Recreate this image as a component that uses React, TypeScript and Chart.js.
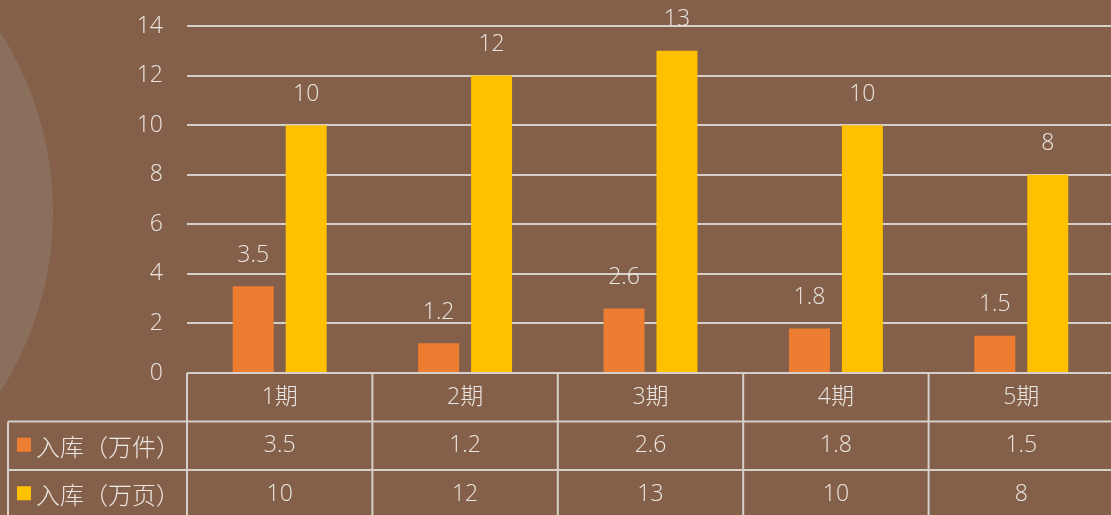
import React, { useEffect, useRef } from "react";
import { Chart, registerables } from "chart.js";

Chart.register(...registerables);

const categories = ["1期", "2期", "3期", "4期", "5期"];
const seriesNames = ["入库（万件）", "入库（万页）"];
const seriesA = [3.5, 1.2, 2.6, 1.8, 1.5];
const seriesB = [10, 12, 13, 10, 8];
const yTicks = { min: 0, max: 14, step: 2 };

const BG = "#84604a";
const CIRCLE = "#8b6f5d";
const ORANGE = "#ed7d31";
const YELLOW = "#ffc000";
const TEXT = "#ebe6e1";
const LINE = "#d4cfca";
const FONT = "'Open Sans', 'Noto Sans CJK SC', sans-serif";
const FS = 23;

const W = 1115;
const H = 515;

export default function App() {
  const ref = useRef<HTMLCanvasElement | null>(null);

  useEffect(() => {
    if (!ref.current) return;

    const bgPlugin = {
      id: "bgPlugin",
      beforeDraw(chart: any) {
        const ctx = chart.ctx;
        ctx.save();
        ctx.fillStyle = BG;
        ctx.fillRect(0, 0, chart.width, chart.height);
        ctx.fillStyle = CIRCLE;
        ctx.beginPath();
        ctx.arc(-279, 212, 332, 0, Math.PI * 2);
        ctx.fill();
        ctx.restore();
      },
    };

    const labelPlugin = {
      id: "labelPlugin",
      afterDatasetsDraw(chart: any) {
        const ctx = chart.ctx;
        ctx.save();
        ctx.fillStyle = TEXT;
        ctx.font = `300 ${FS}px ${FONT}`;
        ctx.textAlign = "center";
        ctx.textBaseline = "middle";
        chart.data.datasets.forEach((ds: any, di: number) => {
          const meta = chart.getDatasetMeta(di);
          meta.data.forEach((bar: any, i: number) => {
            ctx.fillText(String(ds.data[i]), bar.x, bar.y - 31);
          });
        });
        ctx.restore();
      },
    };

    const tablePlugin = {
      id: "tablePlugin",
      afterDraw(chart: any) {
        const ctx = chart.ctx;
        const xs = chart.scales.x;
        const area = chart.chartArea;
        const n = categories.length;
        const cw = area.width / n;
        const top = area.bottom;
        const rowH = 48.5;
        const r1 = top + rowH;
        const r2 = top + rowH * 2;
        const bottom = chart.height + 5;
        const leftX = 8;
        ctx.save();
        ctx.strokeStyle = LINE;
        ctx.lineWidth = 2;
        ctx.beginPath();
        ctx.moveTo(area.left, top);
        ctx.lineTo(area.right, top);
        ctx.moveTo(leftX, r1);
        ctx.lineTo(area.right, r1);
        ctx.moveTo(leftX, r2);
        ctx.lineTo(area.right, r2);
        for (let i = 0; i <= n; i++) {
          const x = area.left + cw * i;
          ctx.moveTo(x, top);
          ctx.lineTo(x, bottom);
        }
        ctx.moveTo(leftX, r1);
        ctx.lineTo(leftX, bottom);
        ctx.stroke();

        ctx.fillStyle = TEXT;
        ctx.font = `300 ${FS}px ${FONT}`;
        ctx.textAlign = "center";
        ctx.textBaseline = "middle";
        const rows = [seriesA, seriesB];
        categories.forEach((c, i) => {
          const x = xs.getPixelForValue(i);
          ctx.fillText(c, x, top + rowH / 2);
          rows.forEach((r, ri) => {
            ctx.fillText(String(r[i]), x, top + rowH * (ri + 1) + rowH / 2);
          });
        });
        const colors = [ORANGE, YELLOW];
        ctx.textAlign = "left";
        ctx.font = `300 24px 'Noto Sans CJK SC', sans-serif`;
        seriesNames.forEach((s, ri) => {
          const cy = top + rowH * (ri + 1) + rowH / 2;
          ctx.fillStyle = colors[ri];
          ctx.fillRect(17, cy - 8, 14, 14);
          ctx.fillStyle = TEXT;
          ctx.fillText(s, 36, cy + 1);
        });
        ctx.restore();
      },
    };

    const chart = new Chart(ref.current, {
      type: "bar",
      data: {
        labels: categories,
        datasets: [
          {
            label: seriesNames[0],
            data: seriesA,
            backgroundColor: ORANGE,
            categoryPercentage: 0.571,
            barPercentage: 0.774,
          },
          {
            label: seriesNames[1],
            data: seriesB,
            backgroundColor: YELLOW,
            categoryPercentage: 0.571,
            barPercentage: 0.774,
          },
        ],
      },
      options: {
        responsive: false,
        animation: false,
        devicePixelRatio: 1,
        layout: { padding: { top: 26, bottom: H - 373, left: 0, right: 1 } },
        plugins: {
          legend: { display: false },
          tooltip: { enabled: false },
        },
        scales: {
          x: { display: false, offset: true },
          y: {
            min: yTicks.min,
            max: yTicks.max,
            ticks: {
              stepSize: yTicks.step,
              color: TEXT,
              padding: 24,
              font: { family: FONT, size: FS, weight: 300 as any },
            },
            grid: { color: LINE, lineWidth: 2, drawTicks: false },
            border: { display: false },
            afterFit(s: any) {
              s.width = 187;
              s.paddingTop = 0;
              s.paddingBottom = 0;
            },
          },
        },
      },
      plugins: [bgPlugin, labelPlugin, tablePlugin],
    });

    return () => chart.destroy();
  }, []);

  return (
    <div
      style={{
        position: "fixed",
        left: 0,
        top: 0,
        width: 1111,
        height: H,
        overflow: "hidden",
        background: BG,
      }}
    >
      <canvas ref={ref} width={W} height={H} style={{ display: "block", width: W, height: H }} />
    </div>
  );
}
